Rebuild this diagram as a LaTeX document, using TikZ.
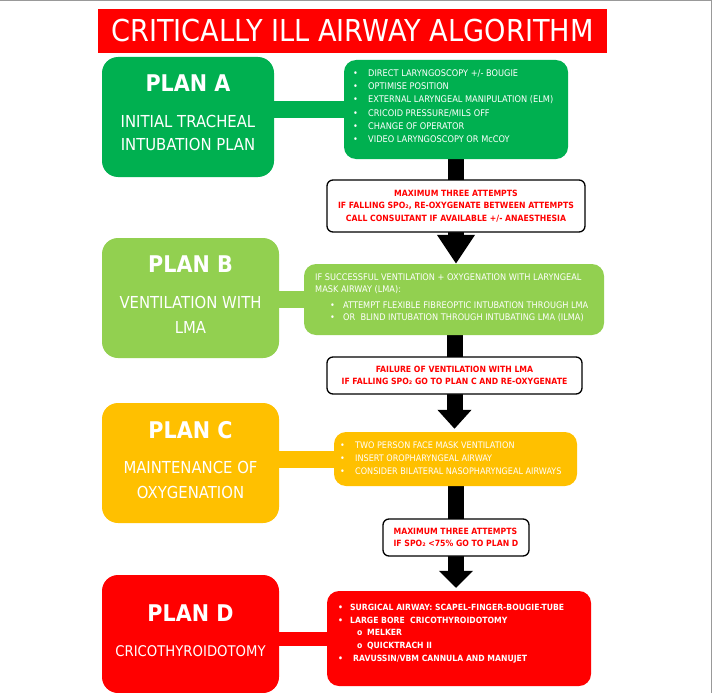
\documentclass[tikz,border=0pt]{standalone}
\usepackage{fontspec}
\setmainfont{DejaVu Sans}[FakeStretch=0.9]
\usetikzlibrary{arrows.meta,backgrounds}
\definecolor{planA}{HTML}{00B050}
\definecolor{planB}{HTML}{92D050}
\definecolor{planC}{HTML}{FFC000}
\definecolor{planD}{HTML}{FF0000}
\definecolor{callred}{HTML}{FF0000}
\newcommand{\bul}{\makebox[13pt][l]{\textbullet}}
\newcommand{\obul}{\makebox[10pt][l]{o}}
\begin{document}
\begin{tikzpicture}[x=1pt,y=-1pt,
  planbox/.style={rounded corners=16pt, inner sep=0pt, draw=none},
  detbox/.style={rounded corners=12pt, inner sep=0pt, draw=none},
  callbox/.style={rounded corners=6pt, draw=black, line width=1.3pt, fill=white, inner sep=0pt,
     text=callred, font=\fontsize{8.6}{12.5}\selectfont\bfseries},
  head/.style={text=white, inner sep=0pt, font=\fontsize{23}{23}\selectfont\bfseries},
  sub/.style={text=white, inner sep=0pt, align=center},
  dtext/.style={text=white, inner sep=0pt, align=left, anchor=west},
  flow/.style={line width=16pt, draw=black},
  conn/.style={line width=17pt}
]
\useasboundingbox (0,0) rectangle (712,693);
\draw[gray!80, line width=1.5pt] (0,0.75) -- (711.25,0.75) -- (711.25,693);

% title
\node[fill=planD, minimum width=509, minimum height=44, inner sep=0pt, text=white,
  font=\fontsize{30.2}{31}\selectfont] (T) at (352.5,31) {CRITICALLY ILL AIRWAY ALGORITHM};

% plan boxes
\node[planbox, fill=planA, minimum width=172, minimum height=120] (A) at (188,117) {};
\node[planbox, fill=planB, minimum width=177, minimum height=120] (B) at (190.5,298) {};
\node[planbox, fill=planC, minimum width=177, minimum height=120] (C) at (190.5,463) {};
\node[planbox, fill=planD, minimum width=177, minimum height=118] (D) at (190.5,634) {};

\node[head] (Ah) at (188,83) {PLAN A};
\node[head] (Bh) at (190.5,264) {PLAN B};
\node[head] (Ch) at (190.5,430) {PLAN C};
\node[head] (Dh) at (190.5,613) {PLAN D};

\node[sub, font=\fontsize{16.5}{23}\selectfont] (As) at (188,132.5) {INITIAL TRACHEAL\\INTUBATION PLAN};
\node[sub, font=\fontsize{16.5}{25}\selectfont] (Bs) at (190.5,314.5) {VENTILATION WITH\\LMA};
\node[sub, font=\fontsize{16.5}{25}\selectfont] (Cs) at (190.5,479.5) {MAINTENANCE OF\\OXYGENATION};
\node[sub, font=\fontsize{14.7}{20}\selectfont] (Ds) at (190.5,651) {CRICOTHYROIDOTOMY};

% detail boxes
\node[detbox, fill=planA, minimum width=224, minimum height=99] (Adet) at (456,109.5) {};
\node[detbox, fill=planB, minimum width=300, minimum height=71] (Bdet) at (454,299.5) {};
\node[detbox, fill=planC, minimum width=243, minimum height=54] (Cdet) at (455.5,459) {};
\node[detbox, fill=planD, minimum width=264, minimum height=95] (Ddet) at (459,638.5) {};

\node[dtext, font=\fontsize{9.15}{13.2}\selectfont] (At) at (353,106.2) {%
\makebox[15pt][l]{\textbullet}DIRECT LARYNGOSCOPY +/- BOUGIE\\
\makebox[15pt][l]{\textbullet}OPTIMISE POSITION\\
\makebox[15pt][l]{\textbullet}EXTERNAL LARYNGEAL MANIPULATION (ELM)\\
\makebox[15pt][l]{\textbullet}CRICOID PRESSURE/MILS OFF\\
\makebox[15pt][l]{\textbullet}CHANGE OF OPERATOR\\
\makebox[15pt][l]{\textbullet}VIDEO LARYNGOSCOPY OR McCOY};

\node[dtext, font=\fontsize{9.1}{12}\selectfont] (Bt) at (315,298) {%
IF SUCCESSFUL VENTILATION + OXYGENATION WITH LARYNGEAL\\
MASK AIRWAY (LMA):\\[4pt]
\hspace{15pt}\bul ATTEMPT FLEXIBLE FIBREOPTIC INTUBATION THROUGH LMA\\
\hspace{15pt}\bul OR\ \ BLIND INTUBATION THROUGH INTUBATING LMA (ILMA)};

\node[dtext, font=\fontsize{9}{13}\selectfont] (Ct) at (340,458) {%
\makebox[15pt][l]{\textbullet}TWO PERSON FACE MASK VENTILATION\\
\makebox[15pt][l]{\textbullet}INSERT OROPHARYNGEAL AIRWAY\\
\makebox[15pt][l]{\textbullet}CONSIDER BILATERAL NASOPHARYNGEAL AIRWAYS};

\node[dtext, font=\fontsize{8.55}{12.75}\selectfont\bfseries] (Dt) at (338,633.5) {%
\makebox[12pt][l]{\textbullet}SURGICAL AIRWAY: SCAPEL-FINGER-BOUGIE-TUBE\\
\makebox[12pt][l]{\textbullet}LARGE BORE\ \ CRICOTHYROIDOTOMY\\
\hspace{19pt}\obul MELKER\\
\hspace{19pt}\obul QUICKTRACH II\\
\makebox[15pt][l]{\textbullet}RAVUSSIN/VBM CANNULA AND MANUJET};

% callouts
\node[callbox, minimum width=258, minimum height=52, align=center] (K1) at (456,206) {%
MAXIMUM THREE ATTEMPTS\\
IF FALLING SPO₂, RE-OXYGENATE BETWEEN ATTEMPTS\\
CALL CONSULTANT IF AVAILABLE +/- ANAESTHESIA};
\node[callbox, minimum width=255, minimum height=37, align=center] (K2) at (454.5,375.5) {%
FAILURE OF VENTILATION WITH LMA\\
IF FALLING SPO₂ GO TO PLAN C AND RE-OXYGENATE};
\node[callbox, minimum width=146, minimum height=37, align=left] (K3) at (456,537.5) {%
MAXIMUM THREE ATTEMPTS\\
IF SPO₂ <75\% GO TO PLAN D};

\begin{pgfonlayer}{background}
\draw[conn, planA] (A.east |- Adet.west) -- (Adet.west);
\draw[conn, planB] (B.east |- Bdet.west) -- (Bdet.west);
\draw[conn, planC] (C.east |- Cdet.west) -- (Cdet.west);
\draw[conn, planD, line width=14pt] (D.east |- Ddet.west) -- (Ddet.west);
\draw[flow, -{Triangle[width=36pt,length=29pt]}] (Adet.south -| K1.center) -- (K1.center |- Bdet.north);
\draw[flow, -{Triangle[width=33pt,length=19pt]}, shorten >=3pt] (Bdet.south -| K2.center) -- (K2.center |- Cdet.north);
\draw[flow, -{Triangle[width=33pt,length=17pt]}, shorten >=3pt] (Cdet.south -| K3.center) -- (K3.center |- Ddet.north);
\end{pgfonlayer}
\end{tikzpicture}
\end{document}
